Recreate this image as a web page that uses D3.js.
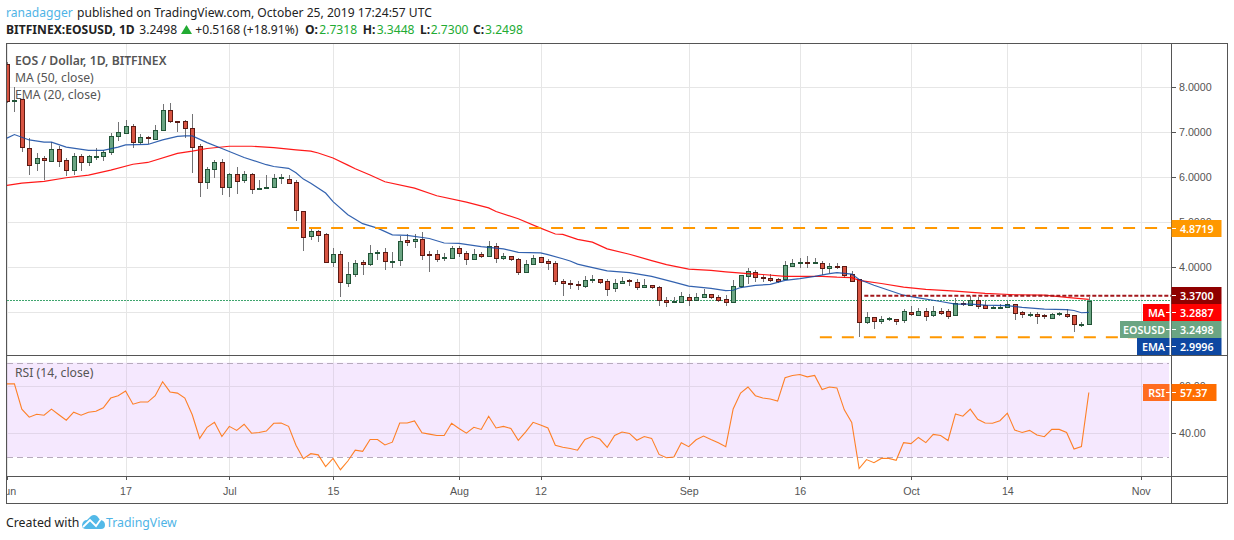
<!DOCTYPE html>
<html>
<head>
<meta charset="utf-8">
<script src="https://d3js.org/d3.v7.min.js"></script>
<style>
  html, body { margin: 0; padding: 0; background: #fff; }
  svg { display: block; font-family: "Noto Sans", sans-serif; }
  text { fill: #555; }
</style>
</head>
<body>
<div id="main"></div>
<script>
const opens = [8.52,7.70,7.73,6.66,6.30,6.42,6.37,6.64,6.38,6.15,
  6.47,6.33,6.46,6.47,6.56,6.91,7.00,7.15,6.78,6.89,
  6.86,7.06,7.50,7.26,7.26,7.10,6.69,5.90,6.18,6.33,
  5.78,6.07,5.93,6.07,5.74,5.76,5.79,5.98,5.96,5.89,
  5.26,4.69,4.81,4.74,4.12,4.30,3.67,3.86,4.12,4.07,
  4.32,4.34,4.12,4.16,4.60,4.58,4.63,4.29,4.30,4.19,
  4.21,4.43,4.32,4.18,4.30,4.25,4.47,4.20,4.25,4.19,
  3.91,4.08,4.23,4.14,4.10,3.69,3.65,3.63,3.59,3.72,
  3.75,3.70,3.54,3.66,3.71,3.67,3.56,3.61,3.57,3.28,
  3.23,3.24,3.35,3.29,3.34,3.40,3.35,3.30,3.23,3.58,
  3.80,3.90,3.78,3.77,3.74,3.73,4.04,4.09,4.12,4.09,
  4.10,3.98,4.04,4.03,3.85,3.73,2.78,2.90,2.81,2.85,
  2.86,2.81,3.00,2.96,3.04,2.96,3.04,3.02,2.94,3.21,
  3.18,3.27,3.16,3.09,3.10,3.12,3.19,3.00,2.95,2.97,
  2.93,2.89,2.96,2.97,2.93,2.73,2.7318];
const closes = [7.70,7.72,6.66,6.28,6.42,6.37,6.64,6.37,6.15,6.47,
  6.33,6.47,6.47,6.56,6.91,7.00,7.15,6.80,6.89,6.86,
  7.06,7.50,7.26,7.24,7.10,6.68,5.88,6.18,6.33,5.78,
  6.07,5.92,6.07,5.73,5.76,5.79,5.99,6.00,5.88,5.26,
  4.69,4.81,4.73,4.12,4.30,3.67,3.86,4.10,4.07,4.32,
  4.34,4.14,4.15,4.59,4.56,4.63,4.27,4.26,4.20,4.22,
  4.43,4.32,4.18,4.30,4.25,4.47,4.20,4.25,4.18,3.91,
  4.08,4.21,4.13,4.09,3.69,3.65,3.63,3.60,3.72,3.74,
  3.69,3.52,3.66,3.70,3.68,3.56,3.61,3.56,3.28,3.24,
  3.25,3.37,3.29,3.35,3.40,3.34,3.29,3.23,3.59,3.82,
  3.91,3.80,3.76,3.73,3.70,4.05,4.10,4.12,4.09,4.12,
  3.98,4.03,4.01,3.83,3.70,2.78,2.90,2.81,2.86,2.87,
  2.81,3.02,2.96,3.04,2.94,3.04,3.00,2.92,3.21,3.18,
  3.28,3.14,3.10,3.11,3.11,3.19,2.99,2.96,2.97,2.92,
  2.90,2.97,2.98,2.92,2.74,2.75,3.2498];
const highs = [8.56,8.00,7.75,6.88,6.55,6.48,6.79,6.70,6.42,6.53,
  6.51,6.50,6.65,6.61,6.98,7.23,7.27,7.18,6.97,6.91,
  7.16,7.62,7.65,7.26,7.27,7.40,6.74,6.24,6.38,6.40,
  6.09,6.24,6.13,6.09,5.94,6.05,6.08,6.08,6.06,5.94,
  5.26,4.89,4.84,4.76,4.44,4.37,4.12,4.17,4.16,4.50,
  4.39,4.43,4.33,4.69,4.75,4.73,4.79,4.37,4.38,4.32,
  4.47,4.47,4.37,4.40,4.34,4.59,4.53,4.32,4.25,4.21,
  4.17,4.28,4.24,4.19,4.15,3.75,3.72,3.69,3.80,3.82,
  3.75,3.73,3.74,3.79,3.74,3.74,3.74,3.61,3.58,3.33,
  3.34,3.46,3.40,3.42,3.51,3.40,3.38,3.39,3.71,3.83,
  3.99,3.95,3.82,3.85,3.76,4.13,4.19,4.20,4.26,4.20,
  4.13,4.10,4.10,4.03,3.91,3.75,3.01,2.90,2.92,2.90,
  2.86,3.08,3.15,3.10,3.10,3.13,3.09,3.07,3.32,3.25,
  3.37,3.33,3.25,3.13,3.19,3.25,3.19,3.02,3.01,3.00,
  2.96,2.99,3.01,3.07,2.94,2.79,3.3448];
const lows = [7.65,7.45,6.57,6.05,6.15,5.93,6.33,6.24,6.02,6.05,
  6.14,6.26,6.39,6.37,6.50,6.81,6.98,6.66,6.75,6.75,
  6.82,7.06,7.21,7.01,6.87,6.10,5.57,5.73,5.98,5.61,
  5.57,5.62,5.87,5.62,5.71,5.76,5.77,5.86,5.86,5.02,
  4.36,4.61,4.57,4.09,4.00,3.34,3.56,3.78,3.82,4.02,
  4.17,3.95,3.98,4.04,4.47,4.44,4.17,3.89,4.12,4.13,
  4.18,4.24,4.06,4.16,4.21,4.24,4.09,4.17,4.14,3.82,
  3.88,4.07,4.12,3.95,3.60,3.36,3.51,3.50,3.54,3.65,
  3.63,3.37,3.46,3.64,3.58,3.49,3.54,3.52,3.13,3.11,
  3.21,3.23,3.14,3.25,3.33,3.30,3.23,3.13,3.23,3.55,
  3.64,3.67,3.67,3.67,3.66,3.72,4.00,3.98,3.99,4.07,
  3.82,3.87,3.96,3.76,3.67,2.45,2.73,2.62,2.73,2.81,
  2.71,2.76,2.92,2.92,2.80,2.89,2.95,2.85,2.92,3.14,
  3.16,3.07,3.07,3.08,3.09,3.10,2.84,2.87,2.90,2.75,
  2.85,2.87,2.92,2.87,2.57,2.68,2.73];

// moving averages, read at the candles listed in *Days
const emaDays = [0,1,3,5,6,8,11,13,15,16,19,21,23,24,25,27,29,32,35,36,38,39,40,41,43,44,46,48,50,52,54,57,59,61,64,67,69,72,73,75,76,77,78,81,84,87,90,92,95,97,98,99,101,103,105,107,109,111,112,114,115,117,119,121,123,126,128,130,132,135,137,140,143,144,145,146];
const emaValues = [6.87,6.95,6.83,6.78,6.78,6.67,6.60,6.60,6.67,6.72,6.73,6.83,6.91,6.92,6.92,6.77,6.64,6.44,6.28,6.24,6.20,6.10,5.96,5.87,5.65,5.46,5.17,4.97,4.87,4.72,4.71,4.64,4.54,4.53,4.46,4.41,4.33,4.32,4.28,4.19,4.14,4.07,4.03,3.92,3.88,3.80,3.67,3.58,3.53,3.48,3.49,3.55,3.60,3.62,3.71,3.75,3.80,3.86,3.88,3.85,3.73,3.60,3.49,3.38,3.32,3.24,3.18,3.18,3.16,3.15,3.11,3.07,3.06,3.04,2.99,2.9996];
const maDays = [0,2,5,8,11,14,17,19,23,25,27,30,33,36,39,41,42,44,46,47,49,51,55,58,62,65,66,69,72,74,75,77,79,81,84,87,89,92,95,97,100,102,105,108,110,112,114,115,118,121,124,128,132,136,140,143,146];
const maValues = [5.82,5.87,5.91,5.99,6.05,6.16,6.29,6.33,6.53,6.58,6.64,6.69,6.69,6.66,6.61,6.58,6.54,6.43,6.27,6.19,6.05,5.90,5.76,5.59,5.45,5.32,5.24,5.08,4.87,4.74,4.73,4.62,4.56,4.41,4.29,4.15,4.06,3.96,3.93,3.90,3.86,3.84,3.80,3.80,3.80,3.78,3.77,3.71,3.64,3.56,3.51,3.47,3.42,3.39,3.38,3.33,3.2887];
const rsiValues = [61,61,50.3,46.9,48.1,47.7,50.3,47.9,45.6,49,
  47.7,49,49.4,50.9,55,56,58,52.4,53.3,53.3,
  56,61.9,57.6,57.1,55,47.9,37.9,42.6,44.7,38.7,
  43,41.3,43.9,40.1,40.4,41,44.3,44.4,43,35,
  29.3,31.4,30.9,25.9,29.4,24.6,28.3,32.9,32.4,37.4,
  37.4,35.1,36.3,44.4,44.4,45.3,40.3,39.7,39.1,39.1,
  44.3,42.1,40.1,42.6,41.7,47.3,42.3,43,42.1,37.1,
  40.7,44.7,43.6,42.3,35,34.1,33.6,32.9,37.4,38.7,
  37.6,34.1,39.1,40.6,40,37.1,38.7,37.9,31.1,29.7,
  30,36,34.4,37.3,38.9,37.4,36,34.4,50.4,57.1,
  59.7,56,55,54.6,53.7,63.6,64.6,65,64,64.6,
  58.6,59.7,59.3,50,44.7,25.1,28.9,27.6,29.4,29.4,
  28.6,36.1,35.7,38.3,36.1,39.6,39.1,37,48.3,47.3,
  50.3,46,44.4,44.3,45.4,48.6,41.4,40.4,41.3,39.3,
  38.6,41.7,41.7,40.4,33.4,34.4,57.37];

const priceTicks = [3, 4, 5, 6, 7, 8];
const rsiTicks = [40, 60];
const rsiBands = [30, 70];
const timeTicks = [[2019,5,1,'Jun'],[2019,5,17,'17'],[2019,6,1,'Jul'],[2019,6,15,'15'],[2019,7,1,'Aug'],[2019,7,12,'12'],[2019,8,1,'Sep'],[2019,8,16,'16'],[2019,9,1,'Oct'],[2019,9,14,'14'],[2019,10,1,'Nov']];
const resistance = 4.8719, support = 2.447, ceiling = 3.37, lastClose = 3.2498;
const resistanceFrom = 37.8, supportFrom = 109.7, ceilingFrom = 115.7;

const chartW = 1234, chartH = 540;
const paneLeft = 7, axisX = 1171, frameRight = 1227, paneTop = 43, mainBottom = 355, rsiBottom = 476, frameBottom = 503;
const fmt4 = d3.format('.4f');
const axisFont = 10.7;

const svg = d3.select('#main').append('svg').attr('width', chartW).attr('height', chartH);

const firstDay = new Date(Date.UTC(2019, 5, 1));
const x = d3.scaleUtc().domain([firstDay, new Date(Date.UTC(2019, 10, 1))]).range([7, 1140.7]);
const xi = i => x(firstDay) + (x(d3.utcDay.offset(firstDay, 1)) - x(firstDay)) * i;
const y = d3.scaleLinear().domain([3, 8]).range([312.3, 87.3]);
const yr = d3.scaleLinear().domain([30, 70]).range([457, 362.7]);
const tickDates = timeTicks.map(t => new Date(Date.UTC(t[0], t[1], t[2])));
const crisp = v => Math.round(v) + 0.5;

svg.append('clipPath').attr('id', 'paneClip').append('rect')
  .attr('x', paneLeft).attr('y', paneTop).attr('width', axisX - paneLeft).attr('height', frameBottom - paneTop);
svg.append('clipPath').attr('id', 'timeClip').append('rect')
  .attr('x', paneLeft).attr('y', -2).attr('width', axisX - paneLeft).attr('height', 30);

// rsi band goes under the grid
svg.append('rect').attr('x', paneLeft).attr('width', 1169 - paneLeft)
  .attr('y', yr(70)).attr('height', yr(30) - yr(70)).attr('fill', '#f5e8fe');

// grid
const grid = svg.append('g').attr('stroke', '#e6e6e6').attr('shape-rendering', 'crispEdges');
tickDates.forEach(d => {
  grid.append('line').attr('x1', crisp(x(d))).attr('x2', crisp(x(d))).attr('y1', paneTop).attr('y2', rsiBottom);
});
priceTicks.forEach(p => {
  grid.append('line').attr('x1', paneLeft).attr('x2', axisX).attr('y1', crisp(y(p))).attr('y2', crisp(y(p)));
});
rsiTicks.forEach(v => {
  grid.append('line').attr('x1', paneLeft).attr('x2', 1169).attr('y1', crisp(yr(v))).attr('y2', crisp(yr(v))).attr('stroke', '#e2d6ea');
});
// grid is tinted where it crosses the rsi band
tickDates.forEach(d => {
  svg.append('line').attr('x1', crisp(x(d))).attr('x2', crisp(x(d))).attr('y1', yr(70)).attr('y2', yr(30))
    .attr('stroke', '#e2d6ea').attr('shape-rendering', 'crispEdges');
});
rsiBands.forEach(v => {
  svg.append('line').attr('x1', paneLeft).attr('x2', 1169).attr('y1', crisp(yr(v))).attr('y2', crisp(yr(v)))
    .attr('stroke', '#b7abbd').attr('stroke-dasharray', '6,4').attr('shape-rendering', 'crispEdges');
});

// last close dotted line
svg.append('line').attr('x1', paneLeft).attr('x2', axisX).attr('y1', crisp(y(lastClose)) - 1).attr('y2', crisp(y(lastClose)) - 1)
  .attr('stroke', '#3fa56e').attr('stroke-dasharray', '2,1').attr('shape-rendering', 'crispEdges');

// candles
const candles = opens.map((o, i) => ({i, o, c: closes[i], h: highs[i], l: lows[i]}));
const candleG = svg.append('g').attr('clip-path', 'url(#paneClip)');
const candle = candleG.selectAll('g').data(candles).join('g').attr('shape-rendering', 'crispEdges');
candle.append('line')
  .attr('x1', d => crisp(xi(d.i))).attr('x2', d => crisp(xi(d.i)))
  .attr('y1', d => y(d.h)).attr('y2', d => y(d.l))
  .attr('stroke', '#737375');
candle.append('rect')
  .attr('x', d => crisp(xi(d.i)) - 2).attr('width', 4)
  .attr('y', d => crisp(y(Math.max(d.o, d.c))))
  .attr('height', d => Math.max(1, Math.round(Math.abs(y(d.o) - y(d.c)))))
  .attr('fill', d => d.c >= d.o ? '#6ba583' : '#d75442')
  .attr('stroke', d => d.c >= d.o ? '#225437' : '#5b1a13');

// moving averages
const priceLine = d3.line().x(d => xi(d[0])).y(d => y(d[1]));
svg.append('path').attr('d', priceLine(d3.zip(maDays, maValues)))
  .attr('fill', 'none').attr('stroke', '#ff0000').attr('stroke-width', 1.2).attr('stroke-opacity', 0.9);
svg.append('path').attr('d', priceLine(d3.zip(emaDays, emaValues)))
  .attr('fill', 'none').attr('stroke', '#0f47a1').attr('stroke-width', 1.2).attr('stroke-opacity', 0.85);

// horizontal levels
function level(from, value, color, dash, w) {
  svg.append('line').attr('x1', xi(from)).attr('x2', axisX)
    .attr('y1', y(value)).attr('y2', y(value))
    .attr('stroke', color).attr('stroke-width', w).attr('stroke-dasharray', dash);
}
level(resistanceFrom, resistance, '#ff9800', '12,10', 2);
level(supportFrom, support, '#ff9800', '12,10', 2);
level(ceilingFrom, ceiling, '#a3161b', '4,2', 2);

// rsi
const rsiLine = d3.line().x((d, i) => xi(i)).y(d => yr(d));
svg.append('path').attr('d', rsiLine(rsiValues)).attr('fill', 'none').attr('stroke', '#ff6d00').attr('stroke-width', 1.1).attr('stroke-opacity', 0.85);

// axes
const priceAxis = d3.axisRight(y).tickValues(priceTicks).tickFormat(fmt4).tickSize(5).tickPadding(3);
const rsiAxis = d3.axisRight(yr).tickValues(rsiTicks).tickFormat(d3.format('.2f')).tickSize(5).tickPadding(3);
const timeAxis = d3.axisBottom(x).tickValues(tickDates).tickFormat((d, i) => timeTicks[i][3]).tickSize(4).tickPadding(7);
[svg.append('g').attr('transform', `translate(${axisX},0)`).call(priceAxis),
 svg.append('g').attr('transform', `translate(${axisX},0)`).call(rsiAxis),
 svg.append('g').attr('transform', `translate(0,${rsiBottom})`).attr('clip-path', 'url(#timeClip)').call(timeAxis)
].forEach(a => {
  a.select('.domain').remove();
  a.selectAll('line').attr('stroke', '#555').attr('shape-rendering', 'crispEdges');
  a.selectAll('text').attr('font-size', axisFont).attr('font-family', 'inherit').attr('fill', '#666');
});

// frame
const frame = svg.append('g').attr('stroke', '#555').attr('fill', 'none').attr('shape-rendering', 'crispEdges');
frame.append('rect').attr('x', 6.5).attr('y', paneTop + 0.5).attr('width', frameRight - 6).attr('height', frameBottom - paneTop);
frame.append('line').attr('x1', axisX + 0.5).attr('x2', axisX + 0.5).attr('y1', paneTop).attr('y2', frameBottom);
frame.append('line').attr('x1', 6).attr('x2', frameRight).attr('y1', mainBottom + 0.5).attr('y2', mainBottom + 0.5);
frame.append('line').attr('x1', 6).attr('x2', frameRight).attr('y1', rsiBottom + 0.5).attr('y2', rsiBottom + 0.5);

// price tags on the axis
function tag(label, color, tagTop, h, right, name, nameLeft, nameColor) {
  svg.append('rect').attr('x', axisX + 0.5).attr('y', tagTop).attr('width', right - axisX).attr('height', h).attr('fill', color);
  svg.append('line').attr('x1', axisX + 1).attr('x2', axisX + 5).attr('y1', tagTop + h / 2).attr('y2', tagTop + h / 2)
    .attr('stroke', '#fff').attr('shape-rendering', 'crispEdges');
  svg.append('text').attr('x', axisX + 9).attr('y', tagTop + h / 2 + 4).attr('font-size', axisFont).attr('font-weight', 600)
    .style('fill', '#fff').text(label);
  if (name) {
    svg.append('rect').attr('x', nameLeft).attr('y', tagTop).attr('width', axisX - 1.5 - nameLeft).attr('height', h).attr('fill', nameColor || color);
    svg.append('line').attr('x1', axisX - 5).attr('x2', axisX - 1.5).attr('y1', tagTop + h / 2).attr('y2', tagTop + h / 2)
      .attr('stroke', '#fff').attr('shape-rendering', 'crispEdges');
    svg.append('text').attr('x', axisX - 6).attr('y', tagTop + h / 2 + 4).attr('text-anchor', 'end')
      .attr('font-size', axisFont).attr('font-weight', 600).style('fill', '#fff').text(name);
  }
}
tag(fmt4(resistance), '#ff9800', 220, 17, 1221);
tag(fmt4(ceiling), '#8f0000', 287, 17, 1221);
tag(fmt4(3.2887), '#ff0000', 304, 17, 1221, 'MA', 1143);
tag(fmt4(lastClose), '#6ba583', 321, 17, 1221, 'EOSUSD', 1120);
tag(fmt4(2.9996), '#0d47a1', 338, 17, 1221, 'EMA', 1137);
tag(d3.format('.2f')(57.37), '#ff6d00', 384, 17, 1216, 'RSI', 1143, '#ff6d20');

// pane legends
const legend = (lx, ly, t, w) => svg.append('text').attr('x', lx).attr('y', ly).attr('font-size', 12.2).attr('font-weight', w || 400).text(t);
legend(15, 65, 'EOS / Dollar, 1D, BITFINEX', 600);
legend(15, 82, 'MA (50, close)');
legend(15, 99, 'EMA (20, close)');
legend(15, 377, 'RSI (14, close)');

// header
const head = (hx, hy, t, fill, w) => svg.append('text').attr('x', hx).attr('y', hy).attr('font-size', 12.1)
  .attr('font-weight', w || 400).style('fill', fill || '#222').text(t);
head(6, 17, 'ranadagger', '#4fb4e6');
head(77, 17, 'published on TradingView.com, October 25, 2019 17:24:57 UTC');
head(6, 33.5, 'BITFINEX:EOSUSD, 1D', '#222', 700);
head(139.3, 33.5, '3.2498');
head(195.3, 33.5, '+0.5168 (+18.91%)');
[['O:', '2.7318', 305, 319.3], ['H:', '3.3448', 362.7, 376.7], ['L:', '2.7300', 420, 430.7], ['C:', '3.2498', 473, 485]].forEach(p => {
  head(p[2], 33.5, p[0], '#222', 700);
  head(p[3], 33.5, p[1], '#22ab33');
});
svg.append('path').attr('d', 'M181 34 L192 34 L186.5 25 Z').attr('fill', '#22ab33');

// footer
svg.append('text').attr('x', 6).attr('y', 527).attr('font-size', 12.3).style('fill', '#222').text('Created with');
svg.append('path').attr('fill', '#53b9e8')
  .attr('d', 'M82 525 Q83 520 87 520 L91 516 Q94 514 97 516 Q99 519 101 520 Q105 521 105 525 Q105 529 101 529 L86 529 Q82 529 82 525 Z');
svg.append('path').attr('fill', 'none').attr('stroke', '#fff').attr('stroke-width', 1.8)
  .attr('d', 'M83 527 L90 520 L96 526 L101 519');
svg.append('text').attr('x', 106).attr('y', 527).attr('font-size', 12.3).style('fill', '#4fb4e6').text('TradingView');
</script>
</body>
</html>
